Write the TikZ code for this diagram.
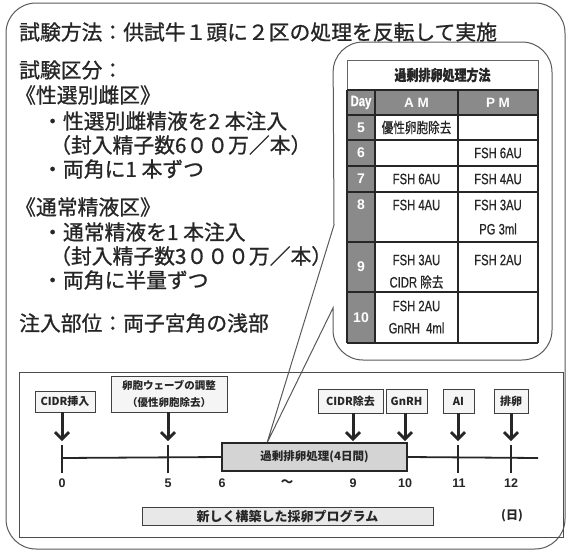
\documentclass[tikz,border=0pt]{standalone}
\usepackage{fontspec}
\setmainfont{Liberation Sans}
\newfontfamily\jp{Noto Sans CJK JP}
\newfontfamily\jpm{Noto Sans CJK JP}[FakeBold=0.9]
\newfontfamily\tjp{Noto Sans CJK JP}[FakeStretch=0.8,FakeBold=0.6]
\newfontfamily\tsans{Liberation Sans}[FakeStretch=0.75,FakeBold=0.6]
\usetikzlibrary{arrows.meta}
\definecolor{hdr}{HTML}{8A8A8A}
\definecolor{ink}{HTML}{262626}
\definecolor{frame}{HTML}{5A5A5A}
\begin{document}
\begin{tikzpicture}[x=1pt,y=-1pt,
  maintxt/.style={anchor=west, inner sep=0, font=\jpm\fontsize{20.8}{24}\selectfont, text=ink},
  cell/.style={font=\tsans\fontsize{15}{16}\selectfont, inner sep=0, text=ink},
  celljp/.style={font=\tjp\fontsize{14.5}{16}\selectfont, inner sep=0, text=ink},
  daytxt/.style={font=\bfseries\fontsize{14}{16}\selectfont, text=white, inner sep=0},
  hdrtxt/.style={font=\bfseries\fontsize{13.5}{16}\selectfont, text=white, inner sep=0},
  grid/.style={draw=ink, line width=1.3},
  evbox/.style={draw=black!75, line width=0.8, fill=black!4, font=\jp\bfseries\fontsize{11}{13}\selectfont, inner sep=0, text=ink},
  arr/.style={line width=3, draw=ink, -{Straight Barb[length=7pt, width=14pt, line width=2.8pt]}},
  axis/.style={line width=1.8, draw=ink},
  ticklbl/.style={font=\bfseries\fontsize{12.5}{14}\selectfont, text=ink, inner sep=0},
  outline/.style={draw=frame, line width=1}
]
\useasboundingbox (0,0) rectangle (568,552);
\fill[white] (0,0) rectangle (568,552);

% outer frame
\draw[outline, rounded corners=30] (6,3) rectangle (565,549);

% left texts
\node[maintxt] (title) at (19,32) {試験方法：供試牛１頭に２区の処理を反転して実施};
\node[maintxt] (kubun) at (19,70) {試験区分：};
\node[maintxt] (sex) at (15,95) {《性選別雌区》};
\node[maintxt] (sex1) at (42,121) {・性選別雌精液を2 本注入};
\node[maintxt] (sex2) at (50,145) {（封入精子数6００万／本）};
\node[maintxt] (sex3) at (42,169) {・両角に1 本ずつ};
\node[maintxt] (norm) at (15,207) {《通常精液区》};
\node[maintxt] (norm1) at (42,232) {・通常精液を1 本注入};
\node[maintxt] (norm2) at (50,256) {（封入精子数3０００万／本）};
\node[maintxt] (norm3) at (42,280) {・両角に半量ずつ};
\node[maintxt] (site) at (19,323) {注入部位：両子宮角の浅部};

% callout bubble
\coordinate (tip) at (267,443);
\draw[outline] (334,225) -- (tip) -- (333,308) [rounded corners=30] -- (333,360) -- (552,360) -- (552,42) -- (333,42) -- (334,225);

% table
\fill[hdr] (347,90) rectangle (538,115);
\fill[hdr] (347,115) rectangle (375,343);
\draw[draw=black!60, line width=0.9] (347,60) rectangle (538,90);
\foreach \y in {90,115,140,166,192,242,292,343} \draw[grid] (347,\y) -- (538,\y);
\draw[grid] (347,90) -- (347,343);
\draw[grid] (538,90) -- (538,343);
\draw[grid] (375,90) -- (375,343);
\draw[grid] (458,90) -- (458,343);

\node[font=\tjp\bfseries\fontsize{15}{16}\selectfont, text=ink, inner sep=0] (ttl) at (442.5,75) {過剰排卵処理方法};
\node[hdrtxt, font=\tsans\bfseries\fontsize{15}{16}\selectfont] (hday) at (361,102.5) {Day};
\node[hdrtxt] (ham) at (416.5,102.5) {A M};
\node[hdrtxt] (hpm) at (498,102.5) {P M};

\node[daytxt] (d5) at (361,127.5) {5};
\node[daytxt] (d6) at (361,153) {6};
\node[daytxt] (d7) at (361,179) {7};
\node[daytxt] (d8) at (361,205) {8};
\node[daytxt] (d9) at (361,267) {9};
\node[daytxt] (d10) at (361,318) {10};

\node[celljp] (c5a) at (416.5,127.5) {優性卵胞除去};
\node[cell] (c6p) at (498,153) {FSH 6AU};
\node[cell] (c7a) at (416.5,179) {FSH 6AU};
\node[cell] (c7p) at (498,179) {FSH 4AU};
\node[cell] (c8a) at (416.5,205) {FSH 4AU};
\node[cell] (c8p) at (498,205) {FSH 3AU};
\node[cell] (c8p2) at (498,229) {PG 3ml};
\node[cell] (c9a) at (416.5,260) {FSH 3AU};
\node[cell] (c9a2) at (416.5,282) {CIDR {\tjp\fontsize{14.5}{16}\selectfont 除去}};
\node[cell] (c9p) at (498,260) {FSH 2AU};
\node[cell] (c10a) at (416.5,306) {FSH 2AU};
\node[cell] (c10a2) at (416.5,328) {GnRH\ \ 4ml};

% timeline frame
\draw[outline, draw=black!70] (19,372) rectangle (563,537);

% axis
\coordinate (t0) at (62,458);
\coordinate (t5) at (168,458);
\coordinate (t11) at (458,458);
\coordinate (t12) at (511,458);
\coordinate (tend) at (538,458);
\node[draw=ink, line width=1.8, fill=black!17, minimum width=185, minimum height=28, inner sep=0,
  font=\jp\bfseries\fontsize{11.5}{13}\selectfont, text=ink] (proc) at (314.5,457) {過剰排卵処理(4日間)};
\draw[axis] (t0) -- (proc.west);
\draw[axis] (proc.east) -- (tend);
\foreach \t in {t0,t5,t11,t12} \draw[axis] ([yshift=-15pt]\t) -- ([yshift=13pt]\t);

% event boxes
\node[evbox, minimum width=60, minimum height=21] (cidrin) at (65,401.5) {CIDR挿入};
\node[evbox, minimum width=116, minimum height=36, align=center, font=\jp\bfseries\fontsize{10.5}{16.5}\selectfont] (wave) at (169,394) {卵胞ウェーブの調整\\（優性卵胞除去）};
\node[evbox, minimum width=65, minimum height=24] (cidrout) at (350.5,401) {CIDR除去};
\node[evbox, minimum width=41, minimum height=24] (gnrh) at (406.5,401) {GnRH};
\node[evbox, minimum width=31, minimum height=24] (ai) at (458.5,401) {AI};
\node[evbox, minimum width=34, minimum height=24] (ovul) at (511,401) {排卵};

\coordinate (a0) at (62,441);
\coordinate (a5) at (168,441);
\coordinate (a9) at (353,441);
\coordinate (a10) at (405,441);
\coordinate (a11) at (458,441);
\coordinate (a12) at (511,441);
\draw[arr] (cidrin.south -| a0) -- (a0);
\draw[arr] (wave.south -| a5) -- (a5);
\draw[arr] (cidrout.south -| a9) -- (a9);
\draw[arr] (gnrh.south -| a10) -- (a10);
\draw[arr] (ai.south -| a11) -- (a11);
\draw[arr] (ovul.south -| a12) -- (a12);

% day labels
\node[ticklbl] (l0) at (62,483) {0};
\node[ticklbl] (l5) at (168,483) {5};
\node[ticklbl] (l6) at (222,483) {6};
\node[ticklbl] (lt) at (287,483) {\jp\bfseries 〜};
\node[ticklbl] (l9) at (353,483) {9};
\node[ticklbl] (l10) at (405,483) {10};
\node[ticklbl] (l11) at (459,483) {11};
\node[ticklbl] (l12) at (511,483) {12};

% program box
\node[draw=black!75, line width=0.9, fill=black!9, minimum width=291, minimum height=18, inner sep=0,
  font=\jp\bfseries\fontsize{13}{15}\selectfont, text=ink] (prog) at (287.5,516) {新しく構築した採卵プログラム};
\node[font=\jp\bfseries\fontsize{12}{14}\selectfont, text=ink, inner sep=0] (unit) at (512,516) {(日)};
\end{tikzpicture}
\end{document}
